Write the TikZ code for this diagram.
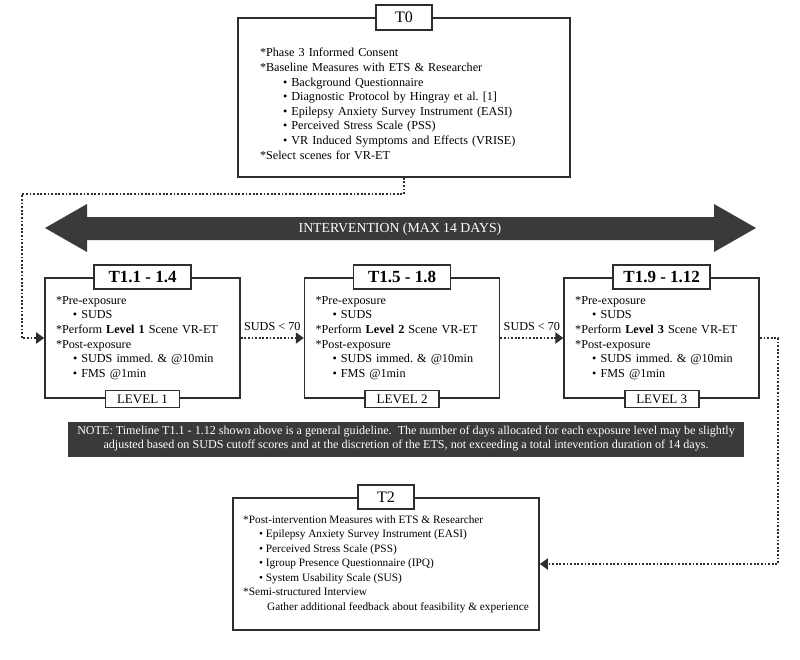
\documentclass[tikz,border=0pt]{standalone}
\usepackage{fontspec}
\setmainfont{Liberation Serif}
\usepackage{xcolor}
\usetikzlibrary{arrows.meta,positioning}
\definecolor{darkband}{HTML}{3A3A3C}
\definecolor{boxline}{HTML}{2E2E2E}

\begin{document}
\begin{tikzpicture}[x=1pt,y=-1pt]
        \tikzstyle{phase} = [draw=boxline, line width=1.6pt, fill=white, align=left, inner ysep=4pt, font=\fontsize{12.2}{14.6}\selectfont]
        \tikzstyle{tag} = [draw=boxline, line width=1.6pt, fill=white, inner sep=1pt]
        \tikzstyle{flow} = [draw=boxline, line width=1.8pt, dash pattern=on 1.8pt off 1.8pt, -{Triangle[length=8pt,width=11pt]}]
        \useasboundingbox (0,0) rectangle (800,659);

        % T0
        \node[phase, inner xsep=22pt, text width=288pt, minimum height=159pt] (t0) at (404,97.5) {%
            \rule{0pt}{21pt}*Phase 3 Informed Consent\\
            {}*Baseline Measures with ETS \& Researcher\\
            \hspace*{23pt}\textbullet\ Background Questionnaire\\
            \hspace*{23pt}\textbullet\ Diagnostic Protocol by Hingray et al.\ [1]\\
            \hspace*{23pt}\textbullet\ Epilepsy Anxiety Survey Instrument (EASI)\\
            \hspace*{23pt}\textbullet\ Perceived Stress Scale (PSS)\\
            \hspace*{23pt}\textbullet\ VR Induced Symptoms and Effects (VRISE)\\
            {}*Select scenes for VR-ET};
        \node[tag, minimum width=56pt, minimum height=25pt, font=\fontsize{16}{18}\selectfont] (t0title) at (t0.north) {T0};

        % intervention band
        \fill[darkband] (45,228) -- (87,204) -- (87,217) -- (714,217) -- (714,204) -- (756,228)
            -- (714,252) -- (714,240) -- (87,240) -- (87,252) -- cycle;
        \node[text=white, font=\fontsize{13.8}{16}\selectfont] (interv) at (400,229) {INTERVENTION (MAX 14 DAYS)};

        % T1 levels
        \node[phase, inner xsep=11pt, text width=173pt, minimum height=120pt] (t11) at (142.5,338) {%
            *Pre-exposure\\
            \hspace*{17pt}\textbullet\ SUDS\\
            {}*Perform \textbf{Level 1} Scene VR-ET\\
            {}*Post-exposure\\
            \hspace*{17pt}\textbullet\ SUDS immed.\ \& @10min\\
            \hspace*{17pt}\textbullet\ FMS @1min};
        \node[phase, inner xsep=11pt, text width=173pt, minimum height=120pt, right = 63pt of t11] (t15) {%
            *Pre-exposure\\
            \hspace*{17pt}\textbullet\ SUDS\\
            {}*Perform \textbf{Level 2} Scene VR-ET\\
            {}*Post-exposure\\
            \hspace*{17pt}\textbullet\ SUDS immed.\ \& @10min\\
            \hspace*{17pt}\textbullet\ FMS @1min};
        \node[phase, inner xsep=11pt, text width=173pt, minimum height=120pt, right = 63pt of t15] (t19) {%
            *Pre-exposure\\
            \hspace*{17pt}\textbullet\ SUDS\\
            {}*Perform \textbf{Level 3} Scene VR-ET\\
            {}*Post-exposure\\
            \hspace*{17pt}\textbullet\ SUDS immed.\ \& @10min\\
            \hspace*{17pt}\textbullet\ FMS @1min};

        \node[tag, minimum width=97pt, minimum height=24pt, font=\bfseries\fontsize{17}{19}\selectfont] (t11title) at (t11.north) {T1.1 - 1.4};
        \node[tag, minimum width=97pt, minimum height=24pt, font=\bfseries\fontsize{17}{19}\selectfont] (t15title) at (t15.north) {T1.5 - 1.8};
        \node[tag, minimum width=97pt, minimum height=24pt, font=\bfseries\fontsize{17}{19}\selectfont] (t19title) at (t19.north) {T1.9 - 1.12};

        \node[tag, minimum width=74pt, minimum height=17pt, font=\fontsize{13}{15}\selectfont] (lv1) at (t11.south) {LEVEL 1};
        \node[tag, minimum width=74pt, minimum height=17pt, font=\fontsize{13}{15}\selectfont] (lv2) at (t15.south) {LEVEL 2};
        \node[tag, minimum width=74pt, minimum height=17pt, font=\fontsize{13}{15}\selectfont] (lv3) at (t19.south) {LEVEL 3};

        % note
        \node[fill=darkband, text=white, minimum width=676pt, minimum height=35pt, inner sep=2pt, align=center,
            font=\fontsize{12.1}{14}\selectfont] (note) at (406,439) {%
            NOTE: Timeline T1.1 - 1.12 shown above is a general guideline.\ \ The number of days allocated for each exposure level may be slightly\\
            adjusted based on SUDS cutoff scores and at the discretion of the ETS, not exceeding a total intevention duration of 14 days.};

        % T2
        \node[phase, inner xsep=10pt, minimum width=306pt, minimum height=132pt, font=\fontsize{11.3}{14.5}\selectfont] (t2) at (386,564) {%
            *Post-intervention Measures with ETS \& Researcher\\
            \hspace*{16pt}\textbullet\ Epilepsy Anxiety Survey Instrument (EASI)\\
            \hspace*{16pt}\textbullet\ Perceived Stress Scale (PSS)\\
            \hspace*{16pt}\textbullet\ Igroup Presence Questionnaire (IPQ)\\
            \hspace*{16pt}\textbullet\ System Usability Scale (SUS)\\
            {}*Semi-structured Interview\\
            \hspace*{24pt}Gather additional feedback about feasibility \& experience};
        \node[tag, minimum width=56pt, minimum height=24pt, font=\fontsize{16}{18}\selectfont] (t2title) at (t2.north) {T2};

        % connectors
        \coordinate (leftbend) at (22,194);
        \coordinate (rightbend) at (778,338);
        \draw[flow] (t0.south) |- (leftbend) |- (t11.west);
        \draw[flow] (t11) -- node[above=3pt, font=\fontsize{12.2}{14}\selectfont] (suds1) {SUDS \textless{} 70} (t15);
        \draw[flow] (t15) -- node[above=3pt, font=\fontsize{12.2}{14}\selectfont] (suds2) {SUDS \textless{} 70} (t19);
        \draw[flow] (t19.east) -- (rightbend) |- (t2.east);
\end{tikzpicture}
\end{document}
